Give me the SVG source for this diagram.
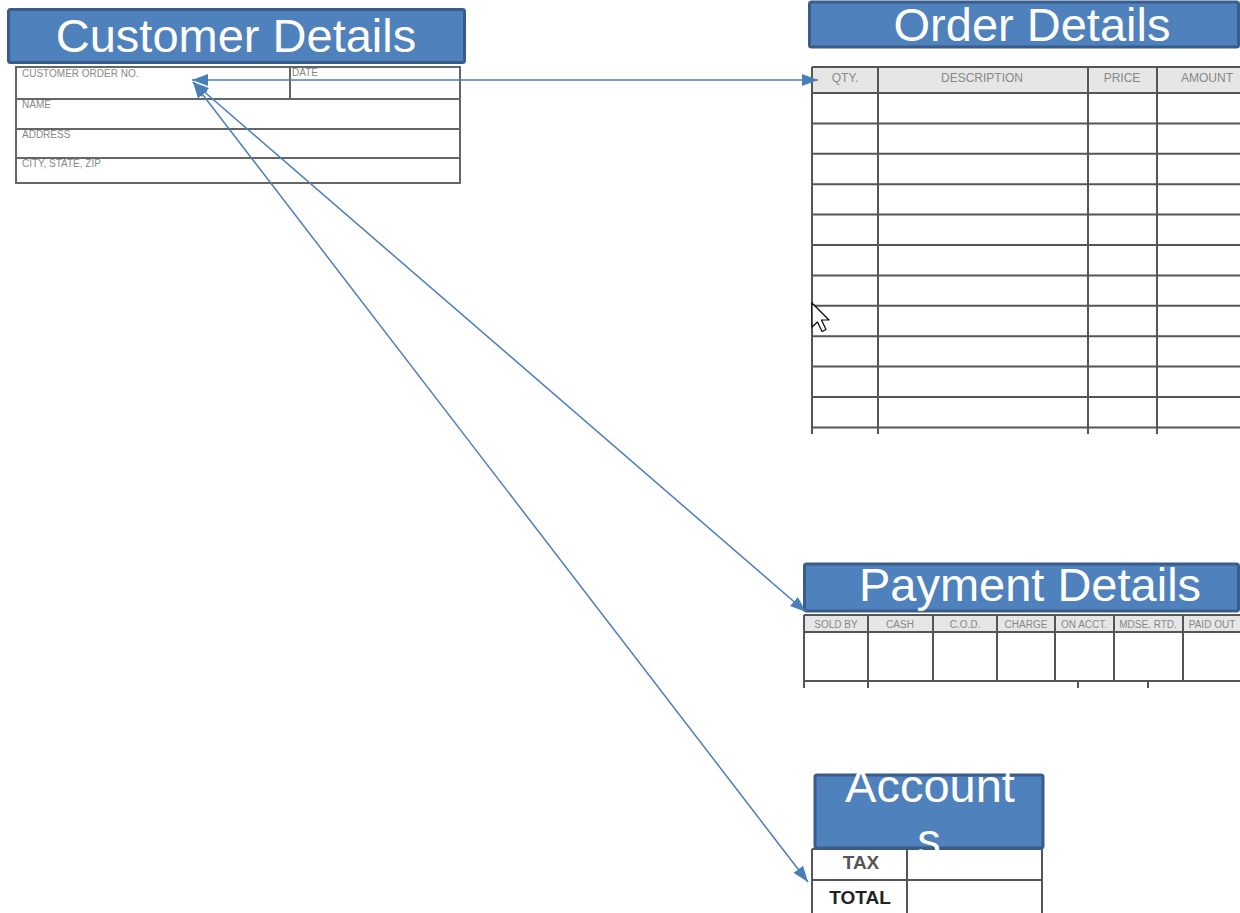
<svg xmlns="http://www.w3.org/2000/svg" width="1240" height="913" viewBox="0 0 1240 913">
<style>
.hdr{fill:#4f81bd;stroke:#385d8a;stroke-width:3}
.ht{font-family:"Liberation Sans",Arial,sans-serif;font-size:47px;fill:#ffffff;text-anchor:middle}
.grid{stroke:#555;stroke-width:2;fill:none}
.lbl{font-family:"Liberation Sans",Arial,sans-serif;font-size:10px;fill:#888}
.lblc{font-family:"Liberation Sans",Arial,sans-serif;font-size:12px;fill:#888;text-anchor:middle}
.lblp{font-family:"Liberation Sans",Arial,sans-serif;font-size:10px;fill:#888;text-anchor:middle}
.bold{font-family:"Liberation Sans",Arial,sans-serif;font-size:19px;font-weight:bold;text-anchor:middle}
.conn{stroke:#4a7ebb;stroke-width:1.5;fill:none;marker-start:url(#ah);marker-end:url(#ah)}
</style>
<defs>
<marker id="ah" viewBox="0 0 16 12" refX="16" refY="6" markerWidth="16" markerHeight="12" markerUnits="userSpaceOnUse" orient="auto-start-reverse">
<path d="M0,0 L16,6 L0,12 z" fill="#4a7ebb"/>
</marker>
</defs>
<rect width="1240" height="913" fill="#ffffff"/>

<g id="customer">
<rect class="hdr" x="8.5" y="9.5" width="456" height="53" rx="2"/>
<text class="ht" x="236" y="52">Customer Details</text>
<rect class="grid" x="16" y="67" width="444" height="116" style="stroke:#666"/>
<path class="grid" style="stroke:#666" d="M16,99 H460 M16,129 H460 M16,158 H460 M290,67 V99"/>
<text class="lbl" x="22" y="77">CUSTOMER ORDER NO.</text>
<text class="lbl" x="292" y="76">DATE</text>
<text class="lbl" x="22" y="108">NAME</text>
<text class="lbl" x="22" y="138">ADDRESS</text>
<text class="lbl" x="22" y="167">CITY, STATE, ZIP</text>
</g>

<g id="order">
<rect class="hdr" x="809.5" y="2" width="429" height="45" rx="2"/>
<text class="ht" x="1032" y="41">Order Details</text>
<rect x="812" y="67" width="428" height="26" fill="#e6e6e6"/>
<path class="grid" d="M812,67 H1240 M812,93 H1240 M812,123.4 H1240 M812,153.8 H1240 M812,184.2 H1240 M812,214.6 H1240 M812,245 H1240 M812,275.4 H1240 M812,305.8 H1240 M812,336.2 H1240 M812,366.6 H1240 M812,397 H1240 M812,427.4 H1240 M812,67 V434 M878,67 V434 M1088,67 V434 M1157,67 V434"/>
<text class="lblc" x="845" y="82">QTY.</text>
<text class="lblc" x="982" y="82">DESCRIPTION</text>
<text class="lblc" x="1122" y="82">PRICE</text>
<text class="lblc" x="1207" y="82">AMOUNT</text>
</g>

<g id="cursor">
<path d="M812,303 L812,327 L817.5,322 L822,331.5 L826,329.5 L821.5,320 L829,320 Z" fill="#ffffff" stroke="#000" stroke-width="1.2" stroke-linejoin="round"/>
</g>

<g id="payment">
<rect class="hdr" x="804.5" y="564" width="434" height="47" rx="2"/>
<text class="ht" x="1030" y="601">Payment Details</text>
<rect x="804" y="615" width="436" height="17" fill="#e6e6e6"/>
<path class="grid" d="M804,615 H1240 M804,632 H1240 M804,681 H1240 M804,615 V688 M868,615 V688 M933,615 V681 M997,615 V681 M1055,615 V681 M1114,615 V681 M1183,615 V681 M1078,681 V688 M1148,681 V688"/>
<text class="lblp" x="836" y="628">SOLD BY</text>
<text class="lblp" x="900" y="628">CASH</text>
<text class="lblp" x="965" y="628">C.O.D.</text>
<text class="lblp" x="1026" y="628">CHARGE</text>
<text class="lblp" x="1084" y="628">ON ACCT.</text>
<text class="lblp" x="1148" y="628">MDSE. RTD.</text>
<text class="lblp" x="1212" y="628">PAID OUT</text>
</g>

<g id="accounts">
<path class="grid" d="M812,849 H1042 M812,880 H1042 M812,849 V913 M1042,849 V913 M907,849 V913"/>
<rect class="hdr" x="815" y="775" width="228" height="73" rx="2"/>
<text class="ht" x="930" y="802">Account</text>
<text class="ht" x="929" y="856">s</text>
<text class="bold" x="861" y="869" fill="#555">TAX</text>
<text class="bold" x="860" y="904" fill="#222">TOTAL</text>
</g>

<g id="connectors">
<line class="conn" x1="192" y1="80" x2="818" y2="80"/>
<line class="conn" x1="193" y1="82" x2="806" y2="612"/>
<line class="conn" x1="193" y1="82" x2="808" y2="882"/>
</g>
</svg>
